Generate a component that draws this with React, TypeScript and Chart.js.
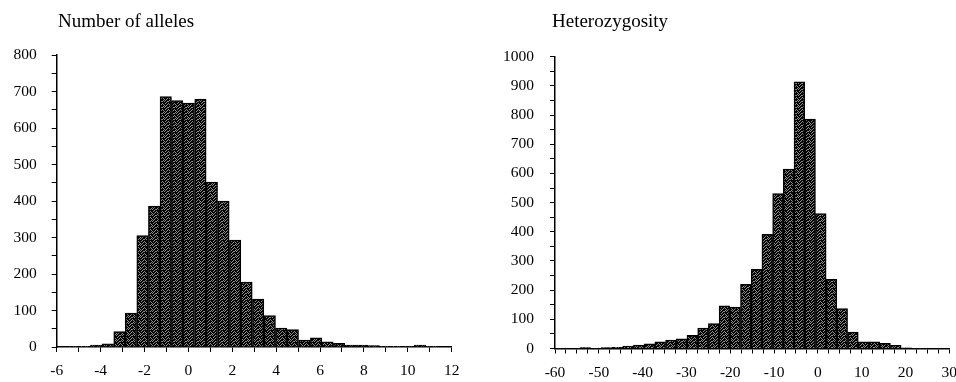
import React, { useEffect, useRef } from 'react';
import { Chart, registerables } from 'chart.js';

Chart.register(...registerables);

// ---- Left panel: Number of alleles ----
const allelesTitle = 'Number of alleles';
const allelesBinCenters = [
  -5.25, -4.72, -4.2, -3.67, -3.14, -2.62, -2.09, -1.56, -1.03, -0.51, 0.02, 0.55, 1.07, 1.6, 2.13, 2.65,
  3.18, 3.71, 4.23, 4.76, 5.29, 5.82, 6.34, 6.87, 7.4, 7.92, 8.45, 8.98, 9.51, 10.03, 10.56, 11.09,
];
const allelesCounts = [
  1, 1, 5, 9, 42, 93, 305, 386, 686, 675, 668, 679, 452, 400, 293, 178,
  131, 86, 52, 48, 19, 25, 14, 10, 5, 5, 4, 2, 2, 2, 5, 1,
];
const allelesXRange = [-6, 12];
const allelesXStep = 1;
const allelesXLabelEvery = 2;
const allelesYRange = [0, 800];

// ---- Right panel: Heterozygosity ----
const hetTitle = 'Heterozygosity';
const hetBinCenters = [
  -57.99, -55.54, -53.1, -50.65, -48.21, -45.76, -43.32, -40.88, -38.43, -35.99, -33.54, -31.1,
  -28.66, -26.21, -23.77, -21.32, -18.88, -16.44, -13.99, -11.55, -9.1, -6.66, -4.22, -1.77,
  0.67, 3.11, 5.56, 8.0, 10.45, 12.89, 15.34, 17.78, 20.22, 22.67, 25.11, 27.56,
];
const hetCounts = [
  1, 1, 3, 1, 3, 4, 8, 12, 16, 23, 29, 33,
  45, 70, 85, 146, 142, 220, 271, 391, 531, 615, 914, 786,
  462, 237, 137, 56, 23, 23, 18, 11, 2, 1, 1, 1,
];
const hetXRange = [-60, 30];
const hetXStep = 2.5;
const hetXLabelEvery = 10;
const hetYRange = [0, 1000];

const yStep = 50;
const yLabelEvery = 100;

const FONT_FAMILY = '"Liberation Serif", "Times New Roman", serif';

function makePattern(ctx: CanvasRenderingContext2D) {
  const c = document.createElement('canvas');
  c.width = 6;
  c.height = 6;
  const g = c.getContext('2d') as CanvasRenderingContext2D;
  g.fillStyle = '#8e8e8e';
  g.fillRect(0, 0, 6, 6);
  g.fillStyle = '#000';
  const dots = [
    [0, 0], [1, 0], [2, 0], [3, 0], [5, 0],
    [1, 1], [2, 1], [4, 1], [5, 1],
    [0, 2], [2, 2], [3, 2], [4, 2],
    [0, 3], [1, 3], [3, 3], [5, 3],
    [0, 4], [2, 4], [4, 4], [5, 4],
    [1, 5], [3, 5], [4, 5],
  ];
  dots.forEach(([x, y]) => g.fillRect(x, y, 1, 1));
  return ctx.createPattern(c, 'repeat');
}

type PanelSpec = {
  title: string;
  titleX: number;
  titleY: number;
  centers: number[];
  counts: number[];
  xRange: number[];
  xStep: number;
  xLabelEvery: number;
  yRange: number[];
  yAxisWidth: number;
  yTickPadding: number;
  padding: { left: number; right: number; top: number; bottom: number };
};

function buildChart(canvas: HTMLCanvasElement, spec: PanelSpec) {
  const ctx = canvas.getContext('2d') as CanvasRenderingContext2D;
  const pattern = makePattern(ctx);
  const titlePlugin = {
    id: 'panelTitle',
    afterDraw(chart: any) {
      const c = chart.ctx;
      c.save();
      c.font = `19px ${FONT_FAMILY}`;
      c.fillStyle = '#000';
      c.textBaseline = 'alphabetic';
      c.textAlign = 'left';
      c.fillText(spec.title, spec.titleX, spec.titleY);
      c.restore();
    },
  };
  const tickFont = { family: FONT_FAMILY, size: 15.5 };
  return new Chart(ctx, {
    type: 'bar',
    data: {
      datasets: [
        {
          data: spec.centers.map((x, i) => ({ x, y: spec.counts[i] })),
          backgroundColor: pattern as any,
          borderColor: '#000',
          borderWidth: 1.5,
          barPercentage: 1,
          categoryPercentage: 1,
        },
      ],
    },
    options: {
      responsive: false,
      animation: false,
      events: [],
      layout: { padding: spec.padding },
      plugins: {
        legend: { display: false },
        tooltip: { enabled: false },
        title: { display: false },
      },
      scales: {
        x: {
          type: 'linear',
          min: spec.xRange[0],
          max: spec.xRange[1],
          offset: false,
          grid: {
            display: true,
            drawOnChartArea: false,
            drawTicks: true,
            tickLength: 5,
            tickColor: '#000',
            tickWidth: 1,
            offset: false,
          },
          border: { display: true, color: '#000', width: 1.5 },
          ticks: {
            stepSize: spec.xStep,
            autoSkip: false,
            maxTicksLimit: 1000,
            maxRotation: 0,
            minRotation: 0,
            padding: 10,
            color: '#000',
            font: tickFont,
            callback: (v: any) => (Math.abs(Number(v) % spec.xLabelEvery) < 1e-9 ? String(v) : ''),
          },
          afterFit: (s: any) => {
            s.height = 30;
            s.paddingLeft = 0;
            s.paddingRight = 0;
          },
        },
        y: {
          type: 'linear',
          min: spec.yRange[0],
          max: spec.yRange[1],
          grid: {
            display: true,
            drawOnChartArea: false,
            drawTicks: true,
            tickLength: 5,
            tickColor: '#000',
            tickWidth: 1,
          },
          border: { display: true, color: '#000', width: 1.5 },
          ticks: {
            stepSize: yStep,
            autoSkip: false,
            maxTicksLimit: 1000,
            padding: spec.yTickPadding,
            color: '#000',
            font: tickFont,
            callback: (v: any) => (Number(v) % yLabelEvery === 0 ? String(v) : ''),
          },
          afterFit: (s: any) => {
            s.width = spec.yAxisWidth;
            s.paddingTop = 0;
            s.paddingBottom = 0;
          },
        },
      },
    } as any,
    plugins: [titlePlugin],
  });
}

export default function App() {
  const leftRef = useRef<HTMLCanvasElement>(null);
  const rightRef = useRef<HTMLCanvasElement>(null);

  useEffect(() => {
    const left = buildChart(leftRef.current as HTMLCanvasElement, {
      title: allelesTitle,
      titleX: 58,
      titleY: 27,
      centers: allelesBinCenters,
      counts: allelesCounts,
      xRange: allelesXRange,
      xStep: allelesXStep,
      xLabelEvery: allelesXLabelEvery,
      yRange: allelesYRange,
      yAxisWidth: 56.7,
      yTickPadding: 15,
      padding: { left: 0, right: 26.3, top: 55, bottom: 5 },
    });
    const right = buildChart(rightRef.current as HTMLCanvasElement, {
      title: hetTitle,
      titleX: 74,
      titleY: 27,
      centers: hetBinCenters,
      counts: hetCounts,
      xRange: hetXRange,
      xStep: hetXStep,
      xLabelEvery: hetXLabelEvery,
      yRange: hetYRange,
      yAxisWidth: 77,
      yTickPadding: 16,
      padding: { left: 0, right: 6.7, top: 56.7, bottom: 3.5 },
    });
    return () => {
      left.destroy();
      right.destroy();
    };
  }, []);

  return (
    <div style={{ position: 'absolute', left: 0, top: 0, width: 956, height: 382, background: '#fff', overflow: 'hidden' }}>
      <canvas ref={leftRef} width={478} height={382} style={{ position: 'absolute', left: 0, top: 0 }} />
      <canvas ref={rightRef} width={478} height={382} style={{ position: 'absolute', left: 478, top: 0 }} />
    </div>
  );
}
